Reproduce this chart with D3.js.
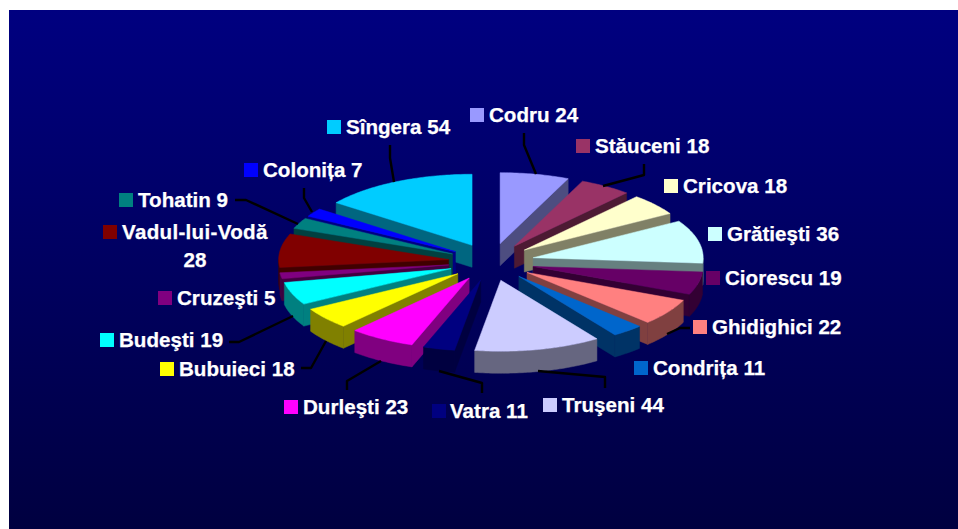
<!DOCTYPE html>
<html><head><meta charset="utf-8">
<script src="https://cdn.jsdelivr.net/npm/d3@7"></script>
<style>html,body{margin:0;padding:0;background:#fff}svg{display:block}</style>
</head><body><svg id="c" width="958" height="529"></svg>
<script>
const names = ["Codru","Stăuceni","Cricova","Grătieşti","Ciorescu","Ghidighici","Condrița","Truşeni","Vatra","Durleşti","Bubuieci","Budeşti","Cruzeşti","Vadul-lui-Vodă","Tohatin","Colonița","Sîngera"];
const values = [24,18,18,36,19,22,11,44,11,23,18,19,5,28,9,7,54];
const colors = ["#9999FF","#993366","#FFFFCC","#CCFFFF","#660066","#FF8080","#0066CC","#CCCCFF","#000080","#FF00FF","#FFFF00","#00FFFF","#800080","#800000","#008080","#0000FF","#00CCFF"];
// legend-key left edge, text baseline per label (layout)
const labelX = [470,576,664,708,706,693,634,543,432,284,160,100,158,103,119,244,327];
const labelY = [122,153,193,241,285,334,375,412,418,414,376,347,305,239,207,177,134];
const leaders = [
 [[524,133],[524,145],[536,174]],
 [[644,164],[644,175],[603,186]],
 [[],[]],[[],[]],[[],[]],
 [[690,328],[680,328],[667,334]],
 [[],[]],
 [[605,388],[605,377],[538,371]],
 [[482,393],[482,383],[439,371]],
 [[347,390],[347,381],[381,361]],
 [[301,368],[311,368],[326,341]],
 [[229,342],[239,342],[293,316]],
 [[],[]],[[],[]],
 [[235,200],[246,200],[298,224]],
 [[304,188],[304,198],[312,212]],
 [[390,145],[390,158],[394,182]]
];
const W=958,H=529,cx=491.3,cy=262,rx=170,ry=71,depth=22,explodeX=43,explodeY=18.7,fontSize=20.6;
const svg=d3.select("#c");
const defs=svg.append("defs");
const g=defs.append("linearGradient").attr("id","bg").attr("x1",0).attr("y1",0).attr("x2",0).attr("y2",1);
g.append("stop").attr("offset",0).attr("stop-color","#000080");
g.append("stop").attr("offset",1).attr("stop-color","#000040");
svg.append("rect").attr("x",9).attr("y",10).attr("width",W-9).attr("height",H-10).attr("fill","url(#bg)");

const pie=d3.pie().sort(null).value(d=>d)(values);
const shade=c=>{const k=d3.rgb(c);return d3.rgb(k.r/2,k.g/2,k.b/2).formatHex();};
const slices=pie.map((p,i)=>{const m=(p.startAngle+p.endAngle)/2;
 return {i,a0:p.startAngle,a1:p.endAngle,m,ox:cx+explodeX*Math.sin(m),oy:cy-explodeY*Math.cos(m)};});
const pt=(s,a,d=0)=>[s.ox+rx*Math.sin(a),s.oy-ry*Math.cos(a)+d];
const arcPts=(s,a0,a1,d=0)=>{const n=Math.max(2,Math.ceil((a1-a0)*60));return d3.range(n+1).map(k=>pt(s,a0+(a1-a0)*k/n,d));};
const line=d3.line();
const order=slices.slice().sort((a,b)=>Math.cos(b.m)-Math.cos(a.m));
const pieG=svg.append("g");
order.forEach(s=>{
 const col=colors[s.i],dark=shade(col),gs=pieG.append("g");
 const apex=[s.ox,s.oy],apexD=[s.ox,s.oy+depth];
 const wall=pts=>gs.append("path").attr("d",line(pts)+"Z").attr("fill",dark).attr("stroke",dark).attr("stroke-width",0.5);
 if(s.a0>=Math.PI) wall([apex,pt(s,s.a0),pt(s,s.a0,depth),apexD]);
 if(s.a1<=Math.PI) wall([apex,pt(s,s.a1),pt(s,s.a1,depth),apexD]);
 const f0=Math.max(s.a0,Math.PI/2),f1=Math.min(s.a1,3*Math.PI/2);
 if(f1>f0) wall(arcPts(s,f0,f1).concat(arcPts(s,f0,f1,depth).reverse()));
 gs.append("path").attr("d",line([apex].concat(arcPts(s,s.a0,s.a1)))+"Z").attr("fill",col).attr("stroke",col).attr("stroke-width",0.5);
});
leaders.forEach(l=>{ if(l[0].length) svg.append("path").attr("d",line(l)).attr("fill","none").attr("stroke","#000").attr("stroke-width",2.4).attr("stroke-linejoin","round");});
const label=(x,y,s,anchor)=>svg.append("text").attr("fill","#fff").attr("stroke","#fff").attr("stroke-width",0.25).attr("font-family","'Liberation Sans',Arial,sans-serif").attr("font-weight","bold").attr("font-size",fontSize).attr("text-anchor",anchor||"start").attr("x",x).attr("y",y).text(s);
names.forEach((n,i)=>{
 const x=labelX[i],y=labelY[i];
 svg.append("rect").attr("x",x).attr("y",y-14).attr("width",14).attr("height",14).attr("fill",colors[i]);
 if(n==="Vadul-lui-Vodă"){
  label(x+19,y,n).attr("letter-spacing",0.3);
  label(195,y+28,values[i],"middle");
 } else label(n==="Vatra"?x+18:x+19,y,n+" "+values[i]);
});
</script></body></html>
